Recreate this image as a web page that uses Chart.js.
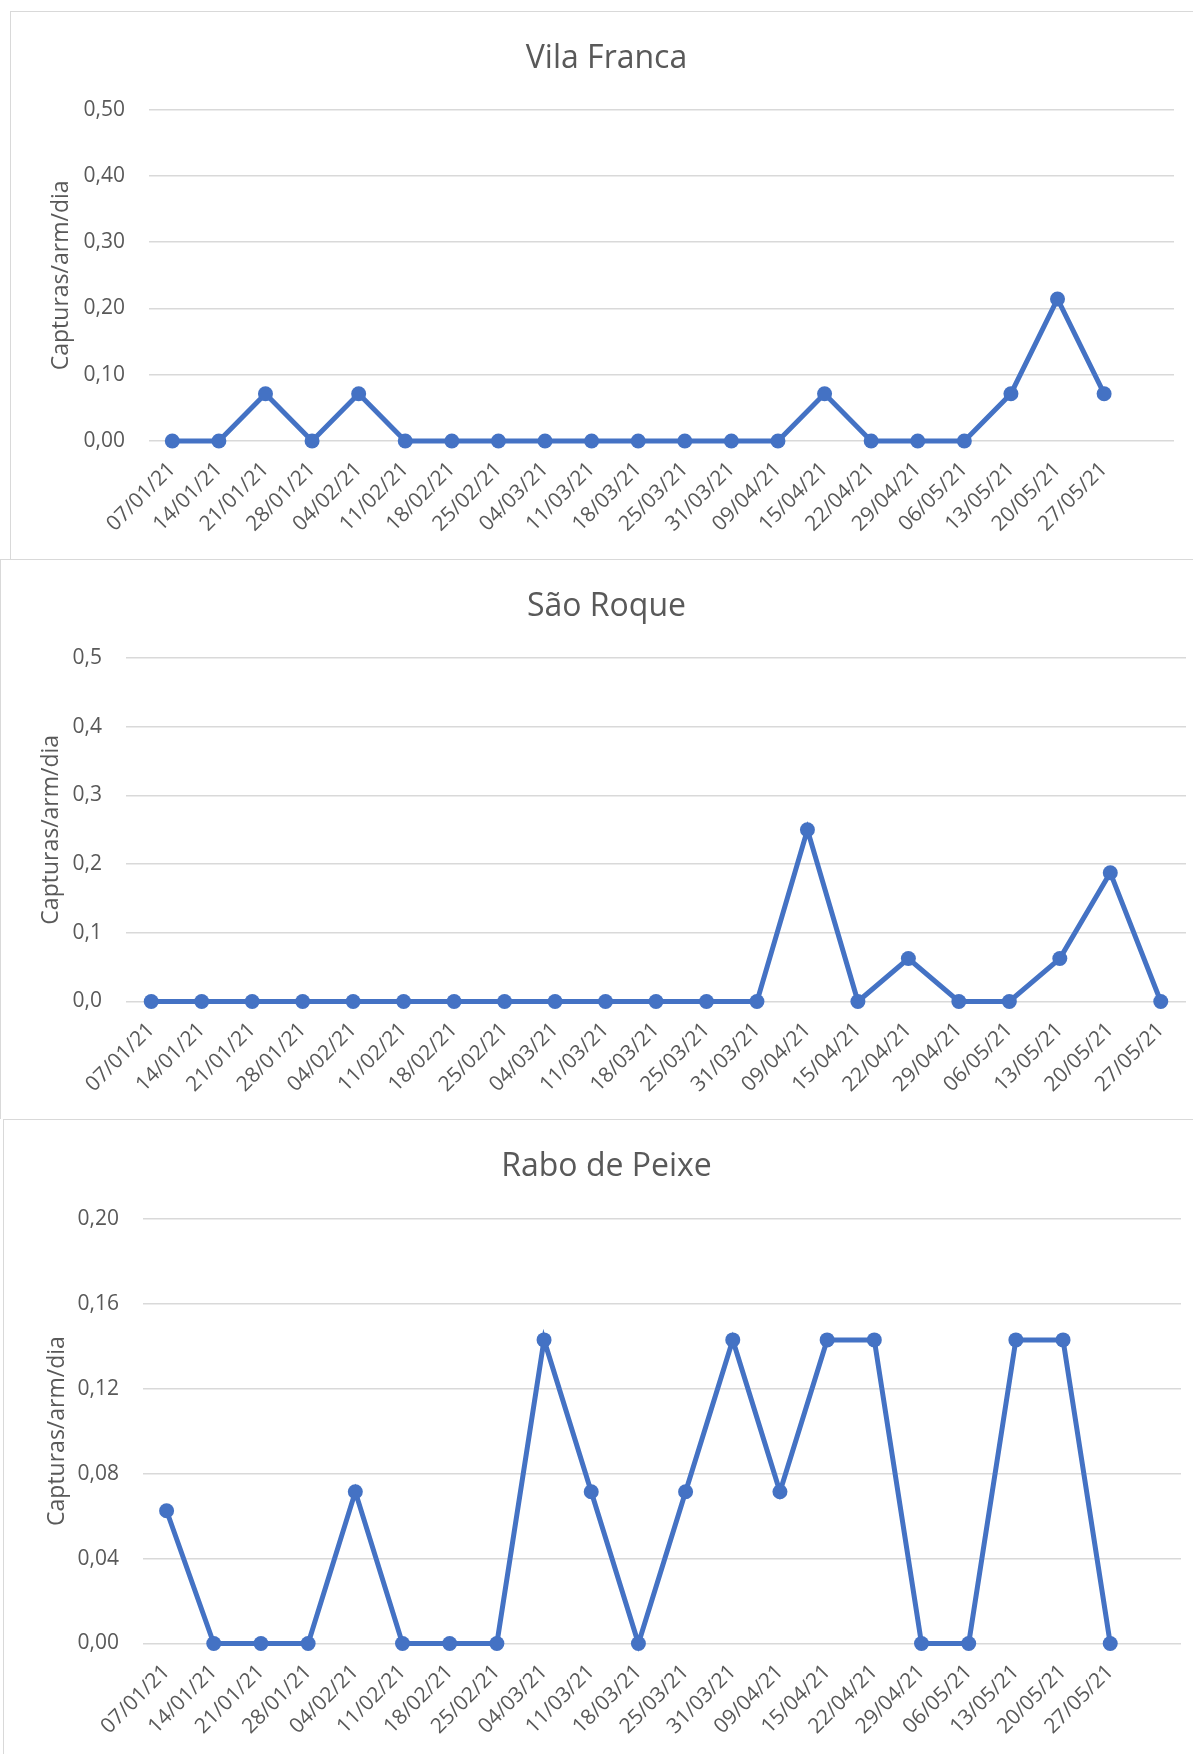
<!DOCTYPE html>
<html>
<head>
<meta charset="utf-8">
<script src="https://cdn.jsdelivr.net/npm/chart.js@4/dist/chart.umd.min.js"></script>
<style>
  html, body { margin: 0; padding: 0; background: #ffffff; overflow: hidden; width: 1193px; height: 1754px; }
  .panel { position: absolute; background: #ffffff; border-top: 1px solid #d9d9d9; border-left: 1px solid #d9d9d9; box-sizing: content-box; }
  canvas { display: block; }
</style>
</head>
<body>
<div class="panel" id="p1" style="left:10px; top:11px; width:1191px; height:547px;"><canvas id="c1" width="1191" height="547"></canvas></div>
<div class="panel" id="p2" style="left:0px; top:559px; width:1211px; height:559px;"><canvas id="c2" width="1211" height="559"></canvas></div>
<div class="panel" id="p3" style="left:3px; top:1119px; width:1205px; height:634px;"><canvas id="c3" width="1205" height="634"></canvas></div>
<script>
// ---- Data ----
const datesVilaFranca = ['07/01/21','14/01/21','21/01/21','28/01/21','04/02/21','11/02/21','18/02/21','25/02/21','04/03/21','11/03/21','18/03/21','25/03/21','31/03/21','09/04/21','15/04/21','22/04/21','29/04/21','06/05/21','13/05/21','20/05/21','27/05/21',''];
const datesSaoRoque = ['07/01/21','14/01/21','21/01/21','28/01/21','04/02/21','11/02/21','18/02/21','25/02/21','04/03/21','11/03/21','18/03/21','25/03/21','31/03/21','09/04/21','15/04/21','22/04/21','29/04/21','06/05/21','13/05/21','20/05/21','27/05/21'];
const datesRaboPeixe = ['07/01/21','14/01/21','21/01/21','28/01/21','04/02/21','11/02/21','18/02/21','25/02/21','04/03/21','11/03/21','18/03/21','25/03/21','31/03/21','09/04/21','15/04/21','22/04/21','29/04/21','06/05/21','13/05/21','20/05/21','27/05/21',''];

const valuesVilaFranca = [0,0,0.0714,0,0.0714,0,0,0,0,0,0,0,0,0,0.0714,0,0,0,0.0714,0.2143,0.0714];
const valuesSaoRoque = [0,0,0,0,0,0,0,0,0,0,0,0,0,0.25,0,0.0625,0,0,0.0625,0.1875,0];
const valuesRaboPeixe = [0.0625,0,0,0,0.0714,0,0,0,0.1429,0.0714,0,0.0714,0.1429,0.0714,0.1429,0.1429,0,0,0.1429,0.1429,0];

const titles = ['Vila Franca', 'São Roque', 'Rabo de Peixe'];
const yAxisTitle = 'Capturas/arm/dia';

// ---- Styling ----
Chart.defaults.font.family = '"Open Sans", "Noto Sans", sans-serif';
Chart.defaults.color = '#595959';
const LINE = '#4472C4';
const GRID = '#d9d9d9';

function makeChart(id, cfg) {
  return new Chart(document.getElementById(id), {
    type: 'line',
    data: {
      labels: cfg.labels,
      datasets: [{
        data: cfg.values,
        borderColor: LINE,
        backgroundColor: LINE,
        borderWidth: 5,
        pointRadius: 7.5,
        pointBackgroundColor: LINE,
        pointBorderWidth: 0,
        pointHoverRadius: 7.5,
        tension: 0,
        clip: false
      }]
    },
    options: {
      responsive: false,
      animation: false,
      devicePixelRatio: 1,
      layout: { padding: 0 },
      plugins: {
        legend: { display: false },
        tooltip: { enabled: false },
        title: {
          display: true,
          text: cfg.title,
          color: '#595959',
          font: { size: 32, weight: 'normal', lineHeight: 1.2 },
          padding: { top: cfg.titleTop, bottom: cfg.titleBottom }
        }
      },
      scales: {
        x: {
          type: 'category',
          offset: true,
          grid: { display: false, drawTicks: false },
          border: { display: false },
          ticks: {
            autoSkip: false,
            maxRotation: 45,
            minRotation: 45,
            padding: 16,
            color: '#595959',
            font: { size: 21 }
          },
          afterFit: (s) => { s.height = cfg.xHeight; }
        },
        y: {
          min: 0,
          max: cfg.yMax,
          grid: { color: GRID, lineWidth: 1.5, drawTicks: false },
          border: { display: false },
          ticks: {
            stepSize: cfg.yStep,
            padding: 24,
            color: '#595959',
            font: { size: 21 },
            callback: (v) => Number(v).toFixed(cfg.decimals).replace('.', ',')
          },
          title: {
            display: true,
            text: yAxisTitle,
            color: '#595959',
            font: { size: 23, weight: 'normal', lineHeight: 1.2 },
            padding: { top: cfg.yTitlePad, bottom: 0 }
          },
          afterFit: (s) => { s.width = cfg.yWidth; }
        },
        // empty spacer on the right: the panel continues past the page edge
        spacer: {
          type: 'linear',
          position: 'right',
          display: true,
          grid: { display: false, drawTicks: false },
          border: { display: false },
          ticks: { display: false },
          afterFit: (s) => { s.width = cfg.padRight; }
        }
      }
    }
  });
}

makeChart('c1', {
  labels: datesVilaFranca, values: valuesVilaFranca, title: titles[0],
  yMax: 0.5, yStep: 0.1, decimals: 2,
  titleTop: 27.3, titleBottom: 32, yWidth: 138, yTitlePad: 37, xHeight: 118, padRight: 28
});
makeChart('c2', {
  labels: datesSaoRoque, values: valuesSaoRoque, title: titles[1],
  yMax: 0.5, yStep: 0.1, decimals: 1,
  titleTop: 27.3, titleBottom: 32.3, yWidth: 125, yTitlePad: 36.5, xHeight: 117.5, padRight: 26
});
makeChart('c3', {
  labels: datesRaboPeixe, values: valuesRaboPeixe, title: titles[2],
  yMax: 0.2, yStep: 0.04, decimals: 2,
  titleTop: 27.3, titleBottom: 32.9, yWidth: 139, yTitlePad: 39.5, xHeight: 110.5, padRight: 28
});
</script>
</body>
</html>
